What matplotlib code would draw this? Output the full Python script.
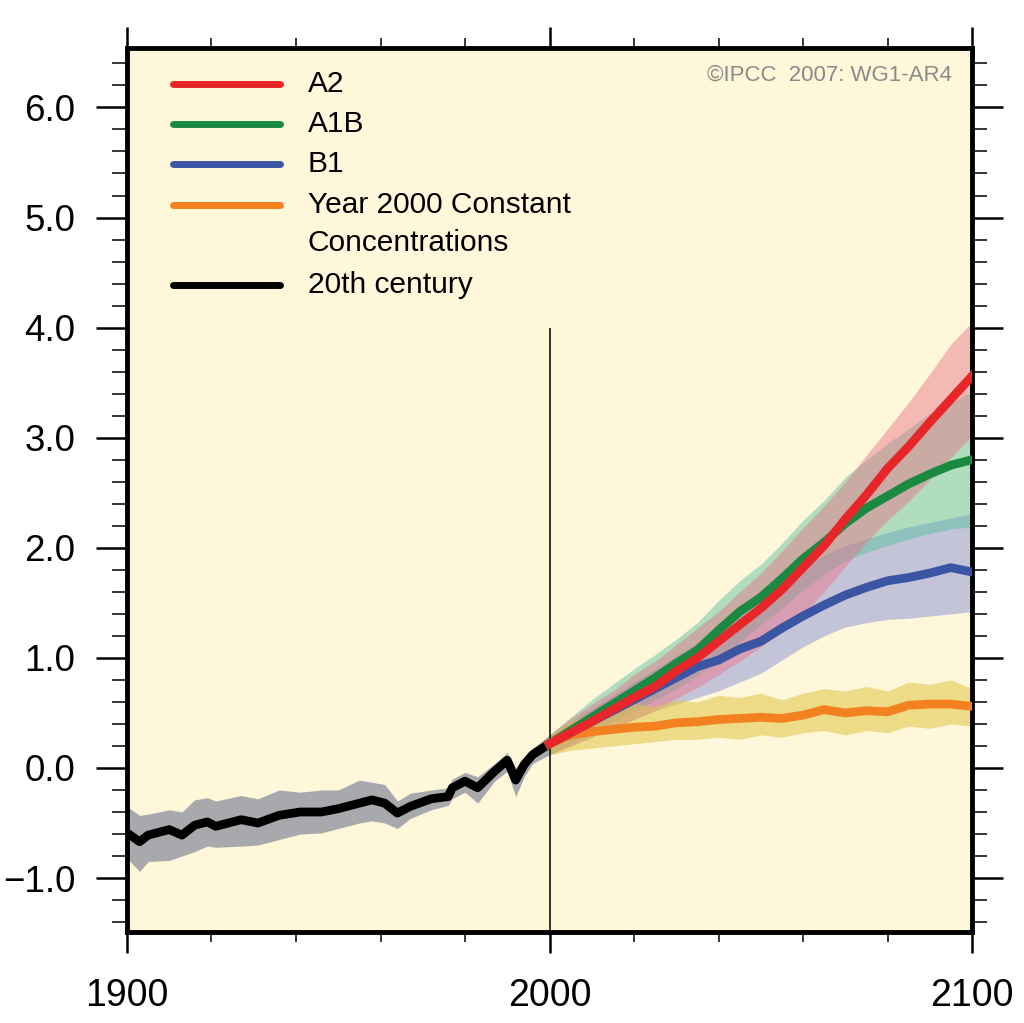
import matplotlib
matplotlib.use("Agg")
import matplotlib.pyplot as plt
from matplotlib.ticker import MultipleLocator, FuncFormatter
from matplotlib.lines import Line2D

plt.rcParams["font.family"] = ["Liberation Sans", "DejaVu Sans"]

hist_years = [1900, 1903, 1905, 1910, 1913, 1916, 1919, 1921, 1927, 1931, 1936, 1941, 1946, 1950,
              1955, 1958, 1961, 1964, 1967, 1972, 1976, 1977, 1980, 1983, 1987, 1990, 1992, 1994,
              1996, 2000]
hist_mean = [-0.59, -0.67, -0.61, -0.56, -0.61, -0.52, -0.49, -0.53, -0.47, -0.50, -0.43, -0.40,
             -0.40, -0.37, -0.32, -0.29, -0.32, -0.41, -0.35, -0.28, -0.26, -0.18, -0.12, -0.18,
             -0.03, 0.07, -0.11, 0.03, 0.12, 0.22]
hist_up = [-0.35, -0.43, -0.42, -0.38, -0.40, -0.29, -0.27, -0.30, -0.25, -0.28, -0.20, -0.22,
           -0.20, -0.20, -0.11, -0.13, -0.15, -0.30, -0.23, -0.20, -0.18, -0.10, -0.04, -0.08,
           0.04, 0.14, 0.00, 0.10, 0.18, 0.30]
hist_low = [-0.82, -0.94, -0.85, -0.84, -0.80, -0.76, -0.71, -0.72, -0.71, -0.70, -0.65, -0.60,
            -0.59, -0.55, -0.50, -0.48, -0.50, -0.55, -0.46, -0.38, -0.34, -0.28, -0.22, -0.32,
            -0.12, -0.03, -0.26, -0.08, 0.04, 0.12]

# 21st century scenarios
proj_years = [2000, 2005, 2010, 2015, 2020, 2025, 2030, 2035, 2040, 2045, 2050,
              2055, 2060, 2065, 2070, 2075, 2080, 2085, 2090, 2095, 2100]
a2_mean = [0.22, 0.32, 0.42, 0.53, 0.64, 0.74, 0.88, 1.00, 1.15, 1.30, 1.45,
           1.62, 1.82, 2.02, 2.26, 2.48, 2.72, 2.92, 3.14, 3.35, 3.56]
a2_up = [0.30, 0.45, 0.58, 0.70, 0.85, 0.97, 1.12, 1.27, 1.42, 1.60, 1.77,
         1.97, 2.18, 2.38, 2.60, 2.84, 3.08, 3.32, 3.58, 3.85, 4.05]
a2_low = [0.12, 0.20, 0.28, 0.36, 0.44, 0.52, 0.63, 0.73, 0.85, 0.97, 1.10,
          1.23, 1.40, 1.60, 1.83, 2.05, 2.25, 2.42, 2.62, 2.82, 3.02]

a1b_mean = [0.22, 0.34, 0.46, 0.58, 0.70, 0.82, 0.95, 1.07, 1.25, 1.42, 1.55,
            1.72, 1.90, 2.05, 2.22, 2.36, 2.47, 2.58, 2.67, 2.75, 2.80]
a1b_up = [0.30, 0.46, 0.62, 0.76, 0.90, 1.03, 1.17, 1.32, 1.52, 1.70, 1.85,
          2.04, 2.25, 2.43, 2.64, 2.80, 2.95, 3.08, 3.22, 3.32, 3.42]
a1b_low = [0.12, 0.22, 0.32, 0.42, 0.52, 0.62, 0.72, 0.84, 0.98, 1.14, 1.30,
           1.45, 1.62, 1.76, 1.88, 1.96, 2.02, 2.08, 2.13, 2.17, 2.19]

b1_mean = [0.22, 0.32, 0.42, 0.52, 0.62, 0.72, 0.82, 0.92, 0.98, 1.08, 1.15,
           1.27, 1.38, 1.48, 1.57, 1.64, 1.70, 1.73, 1.77, 1.82, 1.78]
b1_up = [0.30, 0.42, 0.54, 0.66, 0.78, 0.90, 1.02, 1.14, 1.25, 1.38, 1.50,
         1.65, 1.82, 1.93, 2.02, 2.08, 2.14, 2.19, 2.23, 2.27, 2.31]
b1_low = [0.12, 0.20, 0.28, 0.36, 0.44, 0.52, 0.58, 0.64, 0.70, 0.78, 0.86,
          0.98, 1.10, 1.20, 1.28, 1.32, 1.35, 1.36, 1.38, 1.40, 1.42]

const_mean = [0.22, 0.30, 0.33, 0.35, 0.37, 0.38, 0.41, 0.42, 0.44, 0.45, 0.46,
              0.45, 0.48, 0.53, 0.50, 0.52, 0.51, 0.57, 0.58, 0.58, 0.56]
const_up = [0.30, 0.42, 0.50, 0.52, 0.58, 0.56, 0.62, 0.60, 0.66, 0.64, 0.68,
            0.62, 0.68, 0.72, 0.70, 0.74, 0.70, 0.78, 0.76, 0.80, 0.72]
const_low = [0.12, 0.16, 0.18, 0.20, 0.22, 0.24, 0.26, 0.26, 0.28, 0.26, 0.30,
             0.28, 0.32, 0.34, 0.30, 0.34, 0.32, 0.38, 0.36, 0.40, 0.38]

legend_labels = ["A2", "A1B", "B1", "Year 2000 Constant", "20th century"]

c_a2, c_a1b, c_b1, c_const = "#E8262A", "#1A8A43", "#3A55A4", "#F3811F"
bg = "#FEF7DA"

fig = plt.figure(figsize=(10.24, 10.23), dpi=100)
ax = fig.add_axes([127 / 1024, 1 - 932 / 1023, 845 / 1024, 884 / 1023])
ax.set_facecolor(bg)

# uncertainty bands
ax.fill_between(hist_years, hist_low, hist_up, color="#A7A9AC", lw=0, zorder=2)
ax.fill_between(proj_years, b1_low, b1_up, color="#7E86D8", alpha=0.45, lw=0, zorder=2)
ax.fill_between(proj_years, a1b_low, a1b_up, color="#4FBE9C", alpha=0.45, lw=0, zorder=2)
ax.fill_between(proj_years, a2_low, a2_up, color="#EC6F85", alpha=0.45, lw=0, zorder=2)
ax.fill_between(proj_years, const_low, const_up, color="#E2C545", alpha=0.55, lw=0, zorder=2)

ax.vlines(2000, -1.49, 4.0, color="black", lw=1.1, zorder=3)

lw = 6.3
ax.plot(hist_years, hist_mean, color="black", lw=lw, solid_joinstyle="round", zorder=4)
ax.plot(proj_years, const_mean, color=c_const, lw=lw, solid_joinstyle="round", zorder=4)
ax.plot(proj_years, b1_mean, color=c_b1, lw=lw, solid_joinstyle="round", zorder=4)
ax.plot(proj_years, a1b_mean, color=c_a1b, lw=lw, solid_joinstyle="round", zorder=4)
ax.plot(proj_years, a2_mean, color=c_a2, lw=lw, solid_joinstyle="round", zorder=4)

ax.set_xlim(1900, 2100)
ax.set_ylim(-1.49, 6.54)

ax.xaxis.set_major_locator(MultipleLocator(100))
ax.xaxis.set_minor_locator(MultipleLocator(20))
ax.yaxis.set_major_locator(MultipleLocator(1.0))
ax.yaxis.set_minor_locator(MultipleLocator(0.2))
ax.yaxis.set_major_formatter(FuncFormatter(lambda v, pos: f"{v:.1f}".replace("-", "\u2212")))

ax.tick_params(axis="both", which="both", direction="out", top=True, right=True,
               labeltop=False, labelright=False)
ax.tick_params(axis="y", which="major", length=22, width=1.8, labelsize=26.5, pad=15)
ax.tick_params(axis="y", which="minor", length=11, width=1.1)
ax.tick_params(axis="x", which="major", length=15, width=1.8, labelsize=27, pad=18)
ax.tick_params(axis="x", which="minor", length=7.5, width=1.1)
for s in ax.spines.values():
    s.set_linewidth(3.5)

# legend drawn by hand to keep the wrapped label aligned with its line
rows = [(0.959, c_a2, "A2"), (0.914, c_a1b, "A1B"), (0.869, c_b1, "B1"),
        (0.822, c_const, "Year 2000 Constant"), (0.732, "black", "20th century")]
for y, c, lab in rows:
    ax.add_line(Line2D([0.054, 0.181], [y, y], transform=ax.transAxes, color=c,
                       lw=5, solid_capstyle="round", zorder=5))
    ax.text(0.214, y, lab, transform=ax.transAxes, fontsize=21.5, va="center", zorder=5)
ax.text(0.214, 0.779, "Concentrations", transform=ax.transAxes, fontsize=21.5,
        va="center", zorder=5)

ax.text(0.976, 0.969, "©IPCC  2007: WG1-AR4", transform=ax.transAxes, fontsize=16,
        color="#8A8A8A", ha="right", va="center", zorder=5)

fig.savefig("out.png", dpi=100)
